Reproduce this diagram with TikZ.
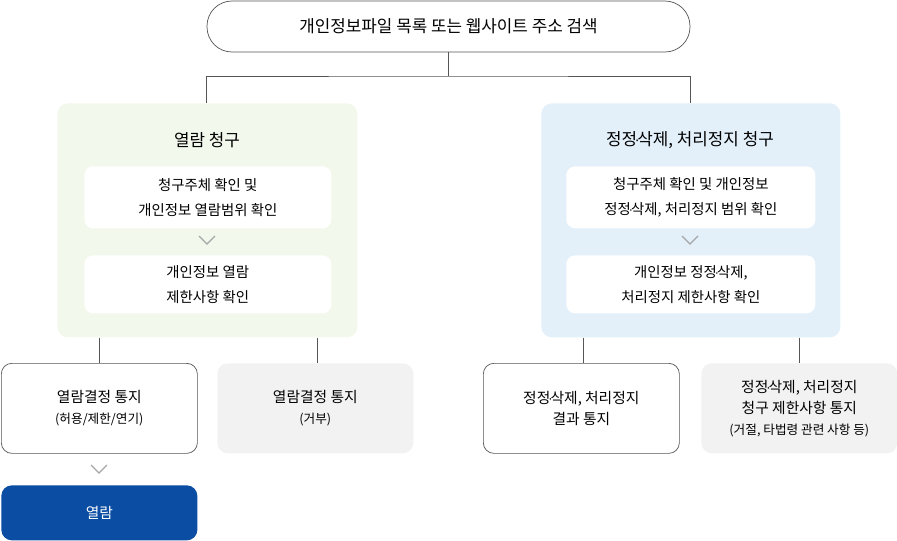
\documentclass[tikz,border=0pt]{standalone}
\usepackage{fontspec}
\setmainfont{Noto Sans CJK KR}
\definecolor{panelG}{HTML}{F2F8EB}
\definecolor{panelB}{HTML}{E3F0FA}
\definecolor{boxgray}{HTML}{F2F2F2}
\definecolor{lineC}{HTML}{555555}
\definecolor{navy}{HTML}{0A4DA2}
\tikzset{
  panel/.style={draw=none, rounded corners=6pt, anchor=north west},
  inbox/.style={draw=none, fill=white, rounded corners=5pt, anchor=north west},
  intext/.style={anchor=center, align=center, font=\fontsize{8.2}{14}\selectfont},
  res/.style={rounded corners=6pt, anchor=north west, align=center, font=\fontsize{8.4}{12}\selectfont, minimum width=196*0.02cm, minimum height=90*0.02cm},
  conn/.style={draw=lineC, line width=0.5pt},
  chev/.style={draw=gray!70, line width=0.8pt}
}
\newcommand{\chevron}[1]{\draw[chev] ($(#1)+(-8,-4)$)--($(#1)+(0,4)$)--($(#1)+(8,-4)$);}
\newcommand{\md}{\kern-0.12em{\fontspec{DejaVu Sans}\scalebox{0.8}{·}}\kern-0.12em}
\usetikzlibrary{calc}
\begin{document}
\begin{tikzpicture}[x=0.02cm,y=-0.02cm]
\useasboundingbox (0,0) rectangle (897,541);
% top
\node[draw=lineC, rounded corners=25*0.02cm, minimum width=483*0.02cm, minimum height=51*0.02cm, font=\fontsize{9.6}{11}\selectfont] (top) at (448.5,26.5) {개인정보파일 목록 또는 웹사이트 주소 검색};
% panels
\node[panel, fill=panelG, minimum width=300*0.02cm, minimum height=234*0.02cm] (pL) at (57,103) {};
\node[panel, fill=panelB, minimum width=299*0.02cm, minimum height=234*0.02cm] (pR) at (541,103) {};
\node[font=\fontsize{9.6}{11}\selectfont] (tL) at (207,140) {열람 청구};
\node[font=\fontsize{9.6}{11}\selectfont] (tR) at (690,140) {정정\md 삭제, 처리정지 청구};
\node[inbox, minimum width=247*0.02cm, minimum height=62*0.02cm] (L1) at (84,166) {};
\node[intext] at (L1.center) {청구주체 확인 및\\개인정보 열람범위 확인};
\node[inbox, minimum width=247*0.02cm, minimum height=58*0.02cm] (L2) at (84,255) {};
\node[intext] at (L2.center) {개인정보 열람\\제한사항 확인};
\node[inbox, minimum width=249*0.02cm, minimum height=62*0.02cm] (R1) at (566,166) {};
\node[intext] at (R1.center) {청구주체 확인 및 개인정보\\정정\md 삭제, 처리정지 범위 확인};
\node[inbox, minimum width=249*0.02cm, minimum height=58*0.02cm] (R2) at (566,255) {};
\node[intext] at (R2.center) {개인정보 정정\md 삭제,\\처리정지 제한사항 확인};
\coordinate (cL) at (207,240); \coordinate (cR) at (690,240);
\chevron{cL} \chevron{cR}
% results
\node[res, draw=lineC] (b1) at (1,363) {열람결정 통지\\{\fontsize{7.2}{12}\selectfont(허용/제한/연기)}};
\node[res, fill=boxgray] (b2) at (217,363) {열람결정 통지\\{\fontsize{7.2}{12}\selectfont(거부)}};
\node[res, draw=lineC] (b3) at (483,363) {정정\md 삭제, 처리정지\\결과 통지};
\node[res, fill=boxgray] (b4) at (701,363) {정정\md 삭제, 처리정지\\청구 제한사항 통지\\{\fontsize{7.2}{12}\selectfont(거절, 타법령 관련 사항 등)}};
\node[res, fill=navy, text=white, minimum height=55*0.02cm] (fin) at (1,485) {열람};
\coordinate (cB) at (99,469); \chevron{cB}
% connectors
\coordinate (j) at (448.5,76);
\draw[conn] (top.south)--(j);
\draw[conn] (pL.north -| top.west)|-(j)-|(pR.north -| top.east);
\draw[conn] (pL.south -| b1.center)--(b1.north);
\draw[conn] (pL.south -| 317,0)--(b2.north -| 317,0);
\draw[conn] (pR.south -| 583,0)--(b3.north -| 583,0);
\draw[conn] (pR.south -| b4.center)--(b4.north);
\end{tikzpicture}
\end{document}
